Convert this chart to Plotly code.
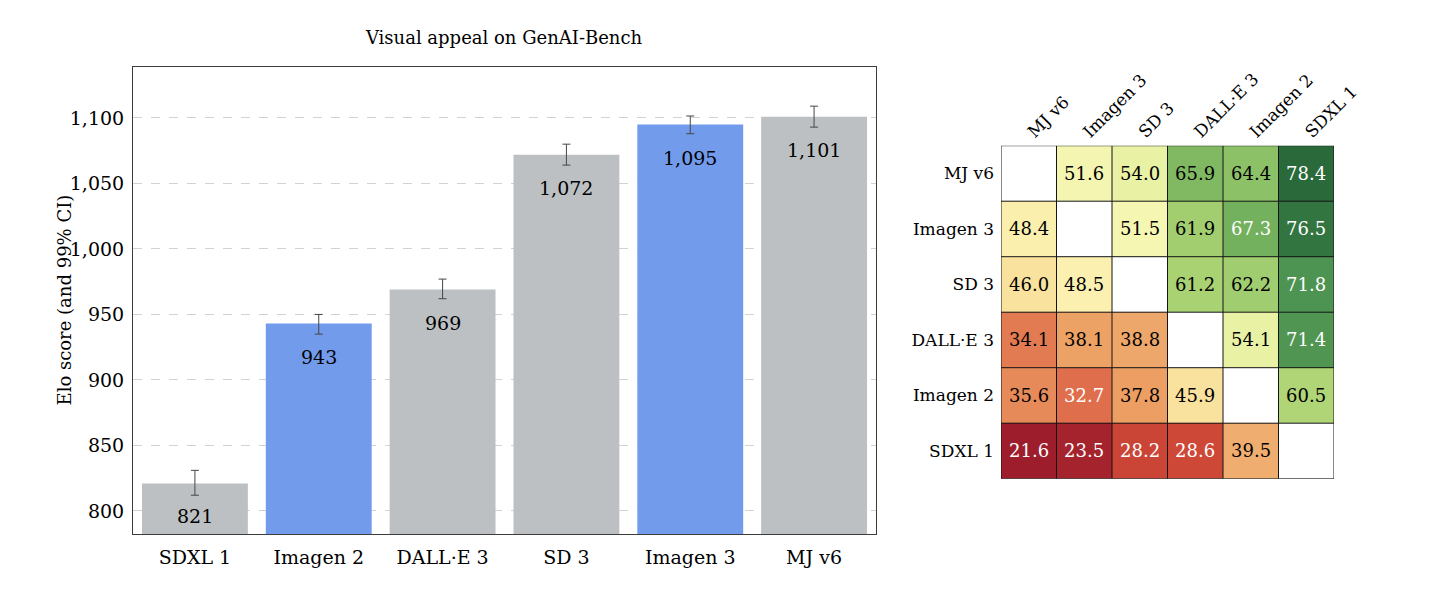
import plotly.graph_objects as go

# ---------------- data ----------------
models = ["SDXL 1", "Imagen 2", "DALL·E 3", "SD 3", "Imagen 3", "MJ v6"]
elo = [821, 943, 969, 1072, 1095, 1101]
ci_plus = [10, 7, 8, 8, 6.5, 8]
ci_minus = [9, 8, 7, 8, 7, 8]
is_google = [False, True, False, False, True, False]

hm_rows = ["MJ v6", "Imagen 3", "SD 3", "DALL·E 3", "Imagen 2", "SDXL 1"]
hm_cols = ["MJ v6", "Imagen 3", "SD 3", "DALL·E 3", "Imagen 2", "SDXL 1"]
win = [
    [None, 51.6, 54.0, 65.9, 64.4, 78.4],
    [48.4, None, 51.5, 61.9, 67.3, 76.5],
    [46.0, 48.5, None, 61.2, 62.2, 71.8],
    [34.1, 38.1, 38.8, None, 54.1, 71.4],
    [35.6, 32.7, 37.8, 45.9, None, 60.5],
    [21.6, 23.5, 28.2, 28.6, 39.5, None],
]
y_ticks = [800, 850, 900, 950, 1000, 1050, 1100]

# ---------------- style ----------------
FONT = "DejaVu Serif"
OFF = 8  # page body margin
W, H = 1440 - 2 * OFF, 592 - 2 * OFF
GRAY = "rgb(189,192,195)"
BLUE = "rgb(114,155,236)"

def px_x(a, b):
    return [(a - OFF) / W, (b - OFF) / W]

def px_y(top, bottom):
    return [1 - (bottom - OFF) / H, 1 - (top - OFF) / H]

fig = go.Figure()

fig.add_trace(go.Bar(
    x=models, y=elo,
    marker=dict(color=[BLUE if g else GRAY for g in is_google], line=dict(width=0)),
    error_y=dict(type="data", symmetric=False, array=ci_plus, arrayminus=ci_minus,
                 color="rgb(70,70,70)", thickness=1, width=4),
    xaxis="x", yaxis="y", showlegend=False, hoverinfo="skip",
))

for m, v in zip(models, elo):
    fig.add_annotation(x=m, y=v, xref="x", yref="y", text=f"{v:,}", showarrow=False,
                       yshift=-33, font=dict(family=FONT, size=19, color="black"))

# heatmap colorscale (muted RdYlGn), zmin 20 .. zmax 80
cs = [
    [0.00, "rgb(150,25,45)"],
    [0.06, "rgb(165,35,45)"],
    [0.14, "rgb(205,70,55)"],
    [0.22, "rgb(225,115,78)"],
    [0.30, "rgb(236,160,100)"],
    [0.40, "rgb(248,215,145)"],
    [0.50, "rgb(252,248,185)"],
    [0.58, "rgb(228,240,160)"],
    [0.68, "rgb(172,212,116)"],
    [0.78, "rgb(120,180,95)"],
    [0.88, "rgb(68,140,78)"],
    [1.00, "rgb(35,95,52)"],
]
fig.add_trace(go.Heatmap(
    z=win, x=hm_cols, y=hm_rows, colorscale=cs, zmin=20, zmax=80,
    showscale=False, xaxis="x2", yaxis="y2", hoverinfo="skip",
))
for i, r in enumerate(hm_rows):
    for j, c in enumerate(hm_cols):
        v = win[i][j]
        if v is None:
            continue
        col = "white" if abs(v - 50) > 16.5 else "black"
        fig.add_annotation(x=c, y=r, xref="x2", yref="y2", text=f"{v:.1f}", showarrow=False,
                           font=dict(family=FONT, size=18, color=col))

n = len(hm_cols)
for k in range(n + 1):
    fig.add_shape(type="line", xref="x2", yref="y2", x0=k - 0.5, x1=k - 0.5, y0=-0.5, y1=n - 0.5,
                  line=dict(color="rgb(20,20,20)", width=1), layer="above")
    fig.add_shape(type="line", xref="x2", yref="y2", y0=k - 0.5, y1=k - 0.5, x0=-0.5, x1=n - 0.5,
                  line=dict(color="rgb(20,20,20)", width=1), layer="above")

fig.update_layout(
    width=W, height=H,
    margin=dict(l=0, r=0, t=0, b=0, autoexpand=False),
    paper_bgcolor="white", plot_bgcolor="white",
    font=dict(family=FONT, size=19, color="black"),
    bargap=0.145,
    title=dict(text="Visual appeal on GenAI-Bench", x=(504 - OFF) / W, xanchor="center",
               y=1 - (38 - OFF) / H, yanchor="middle", font=dict(family=FONT, size=18)),
    xaxis=dict(domain=px_x(133, 876), range=[-0.5, 5.5], showline=True, mirror=True,
               linecolor="rgb(60,60,60)", linewidth=1, ticks="", showgrid=False,
               tickfont=dict(size=19), ticklabelstandoff=6, automargin=False),
    yaxis=dict(domain=px_y(67, 534), range=[782.4, 1138.9], tickvals=y_ticks,
               tickformat=",d", showline=True, mirror=True, linecolor="rgb(60,60,60)",
               linewidth=1, ticks="", ticklen=0, showgrid=True, gridcolor="rgb(210,210,210)",
               griddash="dash", gridwidth=1, zeroline=False, tickfont=dict(size=19),
               ticklabelstandoff=4, automargin=False),
    xaxis2=dict(domain=px_x(1001, 1334), side="top", tickangle=-45, showgrid=False,
                ticks="", showline=False, tickfont=dict(size=17), range=[-0.5, 5.5],
                anchor="y2", automargin=False),
    yaxis2=dict(domain=px_y(145.7, 478.7), autorange=False, range=[5.5, -0.5], showgrid=False,
                ticks="", showline=False, tickfont=dict(size=17), anchor="x2",
                ticklabelstandoff=6, automargin=False),
)

fig.add_annotation(x=(64 - OFF) / W, y=1 - (300.5 - OFF) / H, xref="paper", yref="paper",
                   xanchor="center", yanchor="middle",
                   text="Elo score (and 99% CI)", textangle=-90, showarrow=False,
                   font=dict(family=FONT, size=18))

fig.write_html("out.html")
